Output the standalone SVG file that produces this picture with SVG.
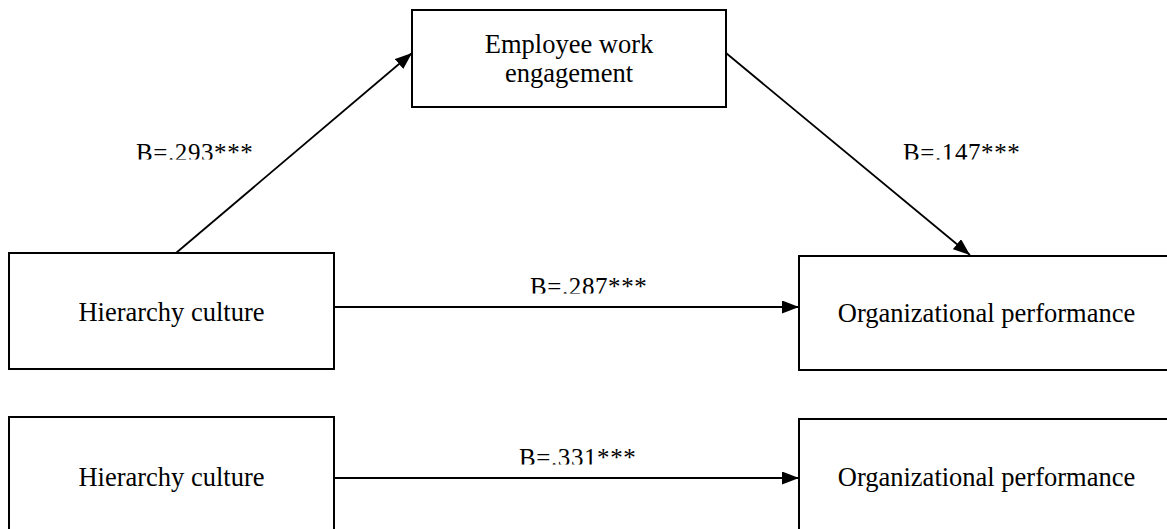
<svg xmlns="http://www.w3.org/2000/svg" width="1167" height="529" viewBox="0 0 1167 529">
  <style>
    .box { fill: #ffffff; stroke: #000000; stroke-width: 2; }
    .lbl { font-family: "Liberation Serif", "Times New Roman", serif; font-size: 26.5px; fill: #000000; }
    .coef { font-family: "Liberation Serif", "Times New Roman", serif; font-size: 25px; letter-spacing: 0.6px; fill: #000000; }
    .mid { text-anchor: middle; }
    .edge { stroke: #000000; stroke-width: 1.8; fill: none; marker-end: url(#arrow); }
  </style>
  <defs>
    <marker id="arrow" viewBox="0 0 17 13" refX="17" refY="6.5" markerWidth="17" markerHeight="13" markerUnits="userSpaceOnUse" orient="auto">
      <path d="M0,0 L17,6.5 L0,13 Z" fill="#000000"/>
    </marker>
    <!-- coefficient labels sit in text frames that cut off their lower edge -->
    <clipPath id="clipA"><rect x="100" y="130" width="200" height="29.5"/></clipPath>
    <clipPath id="clipB"><rect x="880" y="130" width="200" height="29.5"/></clipPath>
    <clipPath id="clipC"><rect x="500" y="265" width="200" height="28.5"/></clipPath>
    <clipPath id="clipD"><rect x="500" y="440" width="200" height="24.5"/></clipPath>
  </defs>

  <rect width="1167" height="529" fill="#ffffff"/>

  <!-- connectors -->
  <g id="connectors">
    <line class="edge" x1="176" y1="253" x2="412" y2="53"/>
    <line class="edge" x1="726" y1="53" x2="970" y2="255"/>
    <line class="edge" x1="334" y1="307" x2="799" y2="307"/>
    <line class="edge" x1="334" y1="478" x2="799" y2="478"/>
    <text class="coef" x="136" y="160.5" clip-path="url(#clipA)">B=.293***</text>
    <text class="coef" x="903" y="160.5" clip-path="url(#clipB)">B=.147***</text>
    <text class="coef" x="530" y="294.5" clip-path="url(#clipC)">B=.287***</text>
    <text class="coef" x="519" y="465.5" clip-path="url(#clipD)" letter-spacing="1.6">B=.331***</text>
  </g>

  <!-- mediated model -->
  <g id="engagement">
    <rect class="box" x="412" y="10" width="314" height="97"/>
    <text class="lbl mid" x="569" y="53">Employee work</text>
    <text class="lbl mid" x="569" y="82">engagement</text>
  </g>
  <g id="hierarchy-1">
    <rect class="box" x="9" y="253" width="325" height="116"/>
    <text class="lbl mid" x="171.5" y="321">Hierarchy culture</text>
  </g>
  <g id="performance-1">
    <rect class="box" x="799" y="256" width="380" height="114"/>
    <text class="lbl mid" x="986.5" y="322">Organizational performance</text>
  </g>

  <!-- direct model -->
  <g id="hierarchy-2">
    <rect class="box" x="9" y="417" width="325" height="130"/>
    <text class="lbl mid" x="171.5" y="486">Hierarchy culture</text>
  </g>
  <g id="performance-2">
    <rect class="box" x="799" y="419" width="380" height="130"/>
    <text class="lbl mid" x="986.5" y="486">Organizational performance</text>
  </g>
</svg>
